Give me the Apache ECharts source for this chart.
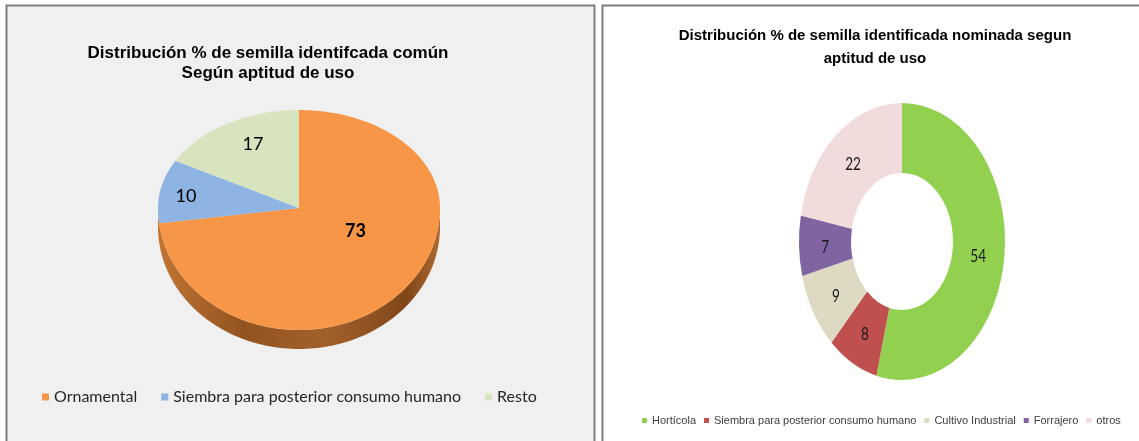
<!DOCTYPE html>
<html><head><meta charset="utf-8">
<script src="https://cdn.jsdelivr.net/npm/echarts@6/dist/echarts.min.js"></script>
<style>html,body{margin:0;padding:0;background:#fff}#c{width:1139px;height:441px}</style>
</head><body><div id="c"></div>
<script>
// ---------- data ----------
const leftTitle = 'Distribución % de semilla identifcada común\nSegún aptitud de uso';
const leftCategories = ['Ornamental', 'Siembra para posterior consumo humano', 'Resto'];
const leftValues = [73, 10, 17];

const rightTitle = 'Distribución % de semilla identificada nominada segun\naptitud de uso';
const rightCategories = ['Hortícola', 'Siembra para posterior consumo humano', 'Cultivo Industrial', 'Forrajero', 'otros'];
const rightValues = [54, 8, 9, 7, 22];

// ---------- styles / layout ----------
const leftColors = ['#F79646', '#8DB4E2', '#D7E4BD'];
const rightColors = ['#92D050', '#C0504D', '#DDD9C3', '#8064A2', '#F2DCDB'];
const leftLabelBold = [true, false, false];
const leftLabelNudge = [[-7, -25], [-30, -1], [-3, -13]];
const L = { cx: 299, cy: 208, rx: 141, ryUp: 98, ryDown: 122, depth: 19, labelK: 0.6 };
const R = { cx: 902, cy: 241.5, ry: 138.5, sx: 103 / 138.5, inner: 0.495, labelK: 0.745, labelDy: 2.5 };
const calibri = 'Lato, "Open Sans", sans-serif';

function cumulative(vals) { const out = []; let s = 0; vals.forEach(v => { out.push(s); s += v; }); return out; }
const leftTotal = leftValues.reduce((a, b) => a + b, 0);
const rightTotal = rightValues.reduce((a, b) => a + b, 0);
const leftCum = cumulative(leftValues);
const rightCum = cumulative(rightValues);

function lp(phi, off) {
  const c = Math.cos(phi), s = Math.sin(phi);
  const ry = c > 0 ? L.ryUp : L.ryDown;
  return [L.cx + L.rx * s, L.cy - ry * c + (off || 0)];
}

const series = [];
// side of 3D pie
series.push({
  type: 'custom', name: 'side3d', coordinateSystem: 'none', z: 2, silent: true,
  data: [[leftTotal]],
  renderItem: function () {
    const pts = [];
    const n = 120;
    for (let k = 0; k <= n; k++) pts.push(lp(Math.PI / 2 + Math.PI * k / n, 0));
    for (let k = n; k >= 0; k--) pts.push(lp(Math.PI / 2 + Math.PI * k / n, L.depth));
    return {
      type: 'polygon', shape: { points: pts },
      style: {
        fill: { type: 'linear', x: 0, y: 0, x2: 1, y2: 0, colorStops: [
          { offset: 0, color: '#c27533' }, { offset: 0.3, color: '#93531f' },
          { offset: 0.6, color: '#a3602a' }, { offset: 0.88, color: '#7f4618' },
          { offset: 1, color: '#b06a30' }] }
      }
    };
  }
});
leftCategories.forEach(function (name, i) {
  series.push({
    type: 'custom', name: name, coordinateSystem: 'none', z: 3,
    itemStyle: { color: leftColors[i] },
    data: [[leftValues[i], leftCum[i], leftTotal]],
    renderItem: function (params, api) {
      const v = api.value(0), s0 = api.value(1), tot = api.value(2);
      const a0 = s0 / tot * 2 * Math.PI, a1 = (s0 + v) / tot * 2 * Math.PI;
      const pts = [[L.cx, L.cy]];
      const n = Math.max(2, Math.ceil((a1 - a0) / (Math.PI / 180)));
      for (let k = 0; k <= n; k++) pts.push(lp(a0 + (a1 - a0) * k / n, 0));
      const am = (a0 + a1) / 2;
      const ry = Math.cos(am) > 0 ? L.ryUp : L.ryDown;
      const lx = L.cx + L.labelK * L.rx * Math.sin(am) + leftLabelNudge[i][0];
      const ly = L.cy - L.labelK * ry * Math.cos(am) + leftLabelNudge[i][1];
      return { type: 'group', children: [
        { type: 'polygon', shape: { points: pts }, style: { fill: api.visual('color') } },
        { type: 'text', x: lx, y: ly, z2: 10, style: { text: String(v), fill: '#000',
          font: (leftLabelBold[i] ? 'bold ' : '') + '18px ' + calibri,
          align: 'center', verticalAlign: 'middle' } }
      ] };
    }
  });
});
rightCategories.forEach(function (name, i) {
  series.push({
    type: 'custom', name: name, id: 'r' + i, coordinateSystem: 'none', z: 3,
    itemStyle: { color: rightColors[i] },
    data: [[rightValues[i], rightCum[i], rightTotal]],
    renderItem: function (params, api) {
      const v = api.value(0), s0 = api.value(1), tot = api.value(2);
      const a0 = -Math.PI / 2 + s0 / tot * 2 * Math.PI, a1 = a0 + v / tot * 2 * Math.PI;
      const am = (a0 + a1) / 2;
      const lx = R.cx + R.labelK * R.ry * R.sx * Math.cos(am);
      const ly = R.cy + R.labelK * R.ry * Math.sin(am) + R.labelDy;
      return { type: 'group', children: [
        { type: 'sector', originX: R.cx, originY: R.cy, scaleX: R.sx,
          shape: { cx: R.cx, cy: R.cy, r: R.ry, r0: R.ry * R.inner, startAngle: a0, endAngle: a1, clockwise: true },
          style: { fill: api.visual('color') } },
        { type: 'text', x: lx, y: ly, scaleX: 0.8, z2: 10, style: { text: String(v), fill: '#1a1a1a',
          font: '17px ' + calibri, align: 'center', verticalAlign: 'middle' } }
      ] };
    }
  });
});

const option = {
  animation: false,
  backgroundColor: '#ffffff',
  graphic: [
    { type: 'rect', z: -10, shape: { x: 6.5, y: 5.5, width: 588, height: 450 },
      style: { fill: '#f0f0f0', stroke: '#7f7f7f', lineWidth: 2 } },
    { type: 'rect', z: -10, shape: { x: 602.5, y: 5.5, width: 560, height: 450 },
      style: { fill: '#ffffff', stroke: '#7f7f7f', lineWidth: 2 } },
    { type: 'text', z: 50, x: 268, y: 63,
      style: { text: leftTitle, font: 'bold 17px "Liberation Sans", Arial, sans-serif', fill: '#000',
        align: 'center', verticalAlign: 'middle', textAlign: 'center', textVerticalAlign: 'middle', lineHeight: 20 } },
    { type: 'text', z: 50, x: 875, y: 47,
      style: { text: rightTitle, font: 'bold 15px "Liberation Sans", Arial, sans-serif', fill: '#000',
        align: 'center', verticalAlign: 'middle', textAlign: 'center', textVerticalAlign: 'middle', lineHeight: 23 } }
  ],
  legend: [
    { data: leftCategories.map((n, i) => ({ name: n, itemStyle: { color: leftColors[i] } })),
      left: 42, top: 389, padding: 0, icon: 'rect', itemWidth: 7, itemHeight: 7, itemGap: 24, selectedMode: false,
      textStyle: { fontFamily: calibri, fontSize: 16, color: '#262626' } },
    { data: rightCategories.map((n, i) => ({ name: n, itemStyle: { color: rightColors[i] } })),
      left: 642, top: 415, padding: 0, icon: 'rect', itemWidth: 5, itemHeight: 5, itemGap: 8, selectedMode: false,
      textStyle: { fontFamily: '"Liberation Sans", Arial, sans-serif', fontSize: 11, color: '#404040' } }
  ],
  series: series
};
const chart = echarts.init(document.getElementById('c'), null, { renderer: 'canvas' });
chart.setOption(option);
</script>
</body></html>
